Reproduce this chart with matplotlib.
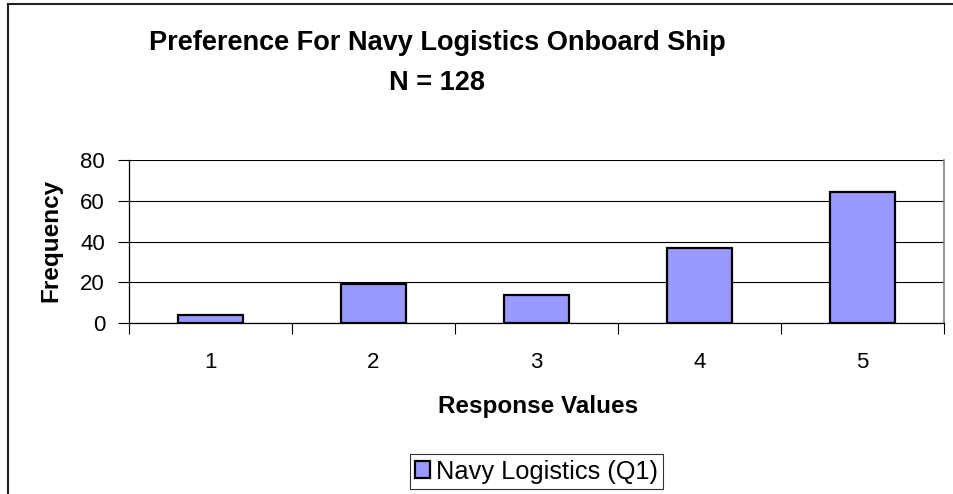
import matplotlib.pyplot as plt
from matplotlib.lines import Line2D

# data
categories = ['1', '2', '3', '4', '5']
frequency = [4, 19, 14, 37, 64]
y_ticks = [0, 20, 40, 60, 80]
series_name = 'Navy Logistics (Q1)'

plt.rcParams['font.family'] = ['Liberation Sans', 'DejaVu Sans']

W, H = 954, 494
fig = plt.figure(figsize=(W / 100, H / 100), dpi=100)

# plot area position in pixels
left, right, bottom, top = 128.7, 944.3, 323.3, 159.7
ax = fig.add_axes([left / W, 1 - bottom / H, (right - left) / W, (bottom - top) / H])

x = range(len(categories))
ax.bar(x, frequency, width=0.4, color='#9999FF', edgecolor='black',
       linewidth=1.6, zorder=3, label=series_name)

ax.set_xlim(-0.5, len(categories) - 0.5)
ax.set_ylim(0, 80)
ax.set_yticks(y_ticks)
# category separators as major ticks, labels on minor ticks
ax.set_xticks([i + 0.5 for i in range(len(categories) - 1)] + [-0.5, len(categories) - 0.5])
ax.set_xticklabels([])
ax.set_xticks(list(x), minor=True)
ax.set_xticklabels(categories, minor=True)
ax.tick_params(axis='x', which='minor', length=0, pad=21, labelsize=16)
ax.tick_params(axis='x', which='major', length=8, width=0.8, direction='out')
ax.tick_params(axis='y', length=8, width=0.8, direction='out', labelsize=16, pad=9)

ax.yaxis.grid(True, color='black', linewidth=0.8, zorder=0)
ax.set_axisbelow(True)
for s in ['left', 'bottom']:
    ax.spines[s].set_color('black')
    ax.spines[s].set_linewidth(0.9)
ax.spines['right'].set_color('#808080')
ax.spines['right'].set_linewidth(1.2)
ax.spines['top'].set_visible(False)

fig.text(538 / W, 1 - 413 / H, 'Response Values', ha='center', va='baseline',
         fontsize=17.5, fontweight='bold')
fig.text(51 / W, 1 - 240 / H, 'Frequency', ha='center', va='center', rotation=90,
         fontsize=17.5, fontweight='bold')

fig.text(437 / W, 1 - 43 / H, 'Preference For Navy Logistics Onboard Ship',
         ha='center', va='center', fontsize=19.5, fontweight='bold')
fig.text(437 / W, 1 - 83 / H, 'N = 128',
         ha='center', va='center', fontsize=19.5, fontweight='bold')

leg = fig.legend(loc='center', bbox_to_anchor=(536.5 / W, 1 - 471.5 / H),
                 fontsize=18.3, frameon=True, fancybox=False, borderpad=0.2,
                 borderaxespad=0, handlelength=0.6, handleheight=0.6,
                 handletextpad=0.25)
leg.get_frame().set_edgecolor('black')
leg.get_frame().set_linewidth(0.8)

# chart border (cropped on right and bottom)
fig.add_artist(Line2D([8 / W, 8 / W], [0, 1 - 4 / H], color='#222222', linewidth=1.5))
fig.add_artist(Line2D([8 / W, 1], [1 - 4 / H, 1 - 4 / H], color='#222222', linewidth=1.5))

fig.savefig('out.png', dpi=100)
